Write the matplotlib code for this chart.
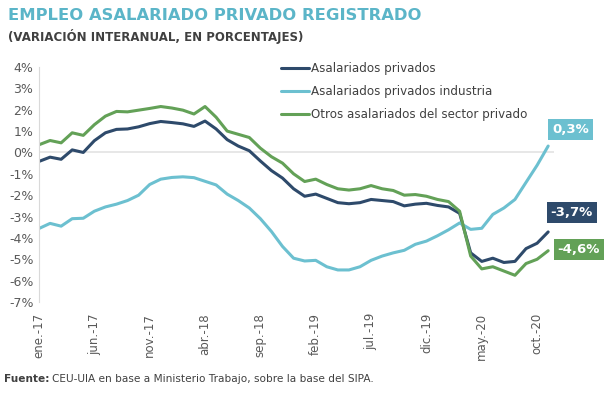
import matplotlib
matplotlib.use("Agg")
import matplotlib.pyplot as plt
import numpy as np

# monthly data, ene-17 .. nov-20 (interannual % change)
months = ["ene", "feb", "mar", "abr", "may", "jun", "jul", "ago", "sep", "oct", "nov", "dic"]
labels = [f"{m}.-{y}" for y in (17, 18, 19, 20) for m in months][:47]

privados = [-0.42, -0.22, -0.32, 0.12, 0.0, 0.55, 0.92, 1.08, 1.1, 1.2,
            1.35, 1.45, 1.4, 1.34, 1.22, 1.47, 1.1, 0.6, 0.3, 0.08,
            -0.4, -0.85, -1.2, -1.7, -2.05, -1.95, -2.15, -2.35, -2.4, -2.35,
            -2.2, -2.25, -2.3, -2.5, -2.42, -2.38, -2.48, -2.55, -2.85, -4.7,
            -5.1, -4.95, -5.15, -5.1, -4.5, -4.25, -3.72]
industria = [-3.56, -3.32, -3.45, -3.1, -3.08, -2.75, -2.55, -2.42, -2.25, -2.0,
             -1.5, -1.25, -1.17, -1.14, -1.18, -1.35, -1.52, -1.95, -2.25, -2.6,
             -3.1, -3.7, -4.4, -4.95, -5.08, -5.05, -5.35, -5.5, -5.5, -5.35,
             -5.05, -4.85, -4.7, -4.58, -4.3, -4.15, -3.9, -3.62, -3.3, -3.6,
             -3.55, -2.9, -2.6, -2.2, -1.4, -0.6, 0.3]
otros = [0.36, 0.56, 0.45, 0.92, 0.8, 1.3, 1.7, 1.92, 1.9, 1.98,
         2.06, 2.15, 2.08, 1.98, 1.8, 2.15, 1.65, 1.0, 0.85, 0.7,
         0.2, -0.2, -0.5, -1.0, -1.36, -1.25, -1.5, -1.7, -1.76, -1.7,
         -1.55, -1.7, -1.78, -2.0, -1.97, -2.05, -2.2, -2.3, -2.75, -4.85,
         -5.45, -5.35, -5.55, -5.75, -5.2, -5.0, -4.6]

series_names = ["Asalariados privados", "Asalariados privados industria",
                "Otros asalariados del sector privado"]
end_labels = ["-3,7%", "0,3%", "-4,6%"]

c_dark = "#2E4A6B"
c_light = "#6CC0D0"
c_green = "#63A157"
c_text = "#595959"

fig = plt.figure(figsize=(6.1, 3.94), dpi=100)
ax = fig.add_axes([39 / 610, 1 - 302 / 394, (553.7 - 39) / 610, (302 - 67) / 394])

x = np.arange(len(labels))
ax.plot(x, privados, color=c_dark, lw=2.2, label=series_names[0], solid_capstyle="round")
ax.plot(x, industria, color=c_light, lw=2.2, label=series_names[1], solid_capstyle="round")
ax.plot(x, otros, color=c_green, lw=2.2, label=series_names[2], solid_capstyle="round")

ax.set_xlim(0, 46.5)
ax.set_ylim(-7, 4)
yt = list(range(-7, 5))
ax.set_yticks(yt)
ax.set_yticklabels([f"{v}%" for v in yt], color=c_text, fontsize=9)
ax.set_xticks(x[::5])
ax.set_xticklabels(labels[::5], rotation=90, color=c_text, fontsize=8.5)
ax.tick_params(length=0, pad=4)
ax.tick_params(axis="x", pad=8)

for s in ["top", "right", "bottom"]:
    ax.spines[s].set_visible(False)
ax.spines["left"].set_color("#d9d9d9")
ax.axhline(0, color="#e3e3e3", lw=1.2, zorder=0)

leg = ax.legend(loc="upper left", bbox_to_anchor=(270 / 610, 1 - 51 / 394),
                bbox_transform=fig.transFigure, frameon=False, fontsize=8.6,
                handlelength=2.4, handletextpad=0.1, labelspacing=0.85)
for t in leg.get_texts():
    t.set_color("#404040")

# end-of-series value boxes
for vals, txt, col, off in [(industria, end_labels[1], c_light, (16, 12)),
                            (privados, end_labels[0], c_dark, (17, 14)),
                            (otros, end_labels[2], c_green, (22, 1))]:
    ax.annotate(txt, xy=(x[-1], vals[-1]), xytext=off, textcoords="offset points",
                ha="center", va="center", color="white", fontsize=9.5, fontweight="bold",
                bbox=dict(boxstyle="square,pad=0.3", fc=col, ec="none"),
                annotation_clip=False)

fig.text(8 / 610, 1 - 16 / 394, "EMPLEO ASALARIADO PRIVADO REGISTRADO",
         color="#5BB5C8", fontsize=11.8, fontweight="bold", va="center")
fig.text(8 / 610, 1 - 37 / 394, "(VARIACIÓN INTERANUAL, EN PORCENTAJES)",
         color="#404040", fontsize=8.5, fontweight="bold", va="center")

t1 = fig.text(4 / 610, 1 - 379 / 394, "Fuente:", color="#404040", fontsize=7.6,
              fontweight="bold", va="center")
fig.canvas.draw()
bb = t1.get_window_extent()
fig.text((bb.x1 + 3) / 610, 1 - 379 / 394,
         "CEU-UIA en base a Ministerio Trabajo, sobre la base del SIPA.",
         color="#404040", fontsize=7.6, va="center")

fig.savefig("out.png", dpi=100)
